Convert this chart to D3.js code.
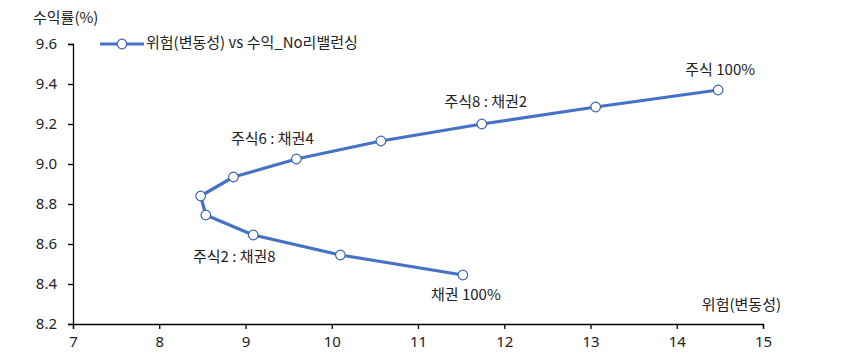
<!DOCTYPE html>
<html><head><meta charset="utf-8">
<script src="https://cdn.jsdelivr.net/npm/d3@7"></script>
<style>
body{margin:0;background:#fff;}
text{font-family:"Noto Sans CJK KR","Noto Sans",sans-serif;fill:#222;}
</style></head><body>
<svg id="c" width="854" height="361"></svg>
<script>
const risk = [11.52, 10.10, 9.09, 8.54, 8.48, 8.86, 9.59, 10.57, 11.74, 13.06, 14.48];
const ret  = [8.445, 8.545, 8.645, 8.745, 8.84, 8.935, 9.025, 9.115, 9.20, 9.285, 9.37];
const pointLabels = ["채권 100%", "", "주식2 : 채권8", "", "", "", "주식6 : 채권4", "", "주식8 : 채권2", "", "주식 100%"];
const xTicks = [7, 8, 9, 10, 11, 12, 13, 14, 15];
const yTicks = [8.2, 8.4, 8.6, 8.8, 9.0, 9.2, 9.4, 9.6];
const seriesName = "위험(변동성) vs 수익_No리밸런싱";
const xTitle = "위험(변동성)";
const yTitle = "수익률(%)";

const svg = d3.select("#c");
const x = d3.scaleLinear().domain([7, 15]).range([73, 763]);
const y = d3.scaleLinear().domain([8.2, 9.6]).range([324, 44]);
const color = "#4472C4";

// axes
const xa = svg.append("g").attr("transform", "translate(0,324)")
  .call(d3.axisBottom(x).tickValues(xTicks).tickSize(5).tickFormat(d3.format("d")));
const ya = svg.append("g").attr("transform", "translate(73,0)")
  .call(d3.axisLeft(y).tickValues(yTicks).tickSize(5).tickFormat(d3.format(".1f")));
[xa, ya].forEach(g => {
  g.select(".domain").attr("stroke", "#000").attr("stroke-width", 1.3);
  g.selectAll(".tick line").attr("stroke", "#000").attr("stroke-width", 1.3);
  g.selectAll(".tick text").style("font-size", "15px").attr("fill", "#333")
    .style("font-family", "\"Noto Sans\",sans-serif");
});
xa.selectAll(".tick text").attr("dy", "1.0em");
ya.selectAll(".tick text").attr("x", -16);

// line
const data = risk.map((r, i) => ({r, v: ret[i], l: pointLabels[i]}));
svg.append("path").datum(data)
  .attr("fill", "none").attr("stroke", color).attr("stroke-width", 3.2)
  .attr("stroke-linejoin", "round")
  .attr("d", d3.line().x(d => x(d.r)).y(d => y(d.v)));
svg.selectAll("circle.pt").data(data).enter().append("circle")
  .attr("class", "pt").attr("cx", d => x(d.r)).attr("cy", d => y(d.v)).attr("r", 4.8)
  .attr("fill", "#fff").attr("stroke", "#3C64AA").attr("stroke-width", 1.2);

// labels
const offs = {0: [3, 21], 2: [-19, 23], 6: [-24, -19], 8: [4, -21], 10: [2, -19]};
svg.selectAll("text.pl").data(data.map((d, i) => ({...d, i})).filter(d => d.l)).enter()
  .append("text").attr("class", "pl")
  .attr("x", d => x(d.r) + offs[d.i][0]).attr("y", d => y(d.v) + offs[d.i][1])
  .attr("text-anchor", "middle").attr("dominant-baseline", "middle")
  .style("font-size", "15px").text(d => d.l);

// titles
svg.append("text").attr("x", 33).attr("y", 19).attr("dominant-baseline", "middle")
  .style("font-size", "15px").text(yTitle);
svg.append("text").attr("x", 781).attr("y", 306).attr("text-anchor", "end")
  .attr("dominant-baseline", "middle").style("font-size", "15px").text(xTitle);

// legend
const lg = svg.append("g");
lg.append("line").attr("x1", 100).attr("x2", 144).attr("y1", 44).attr("y2", 44)
  .attr("stroke", color).attr("stroke-width", 3.2);
lg.append("circle").attr("cx", 122).attr("cy", 44).attr("r", 4.8)
  .attr("fill", "#fff").attr("stroke", "#3C64AA").attr("stroke-width", 1.2);
lg.append("text").attr("x", 146).attr("y", 44).attr("dominant-baseline", "middle")
  .style("font-size", "15px").text(seriesName);
</script>
</body></html>
